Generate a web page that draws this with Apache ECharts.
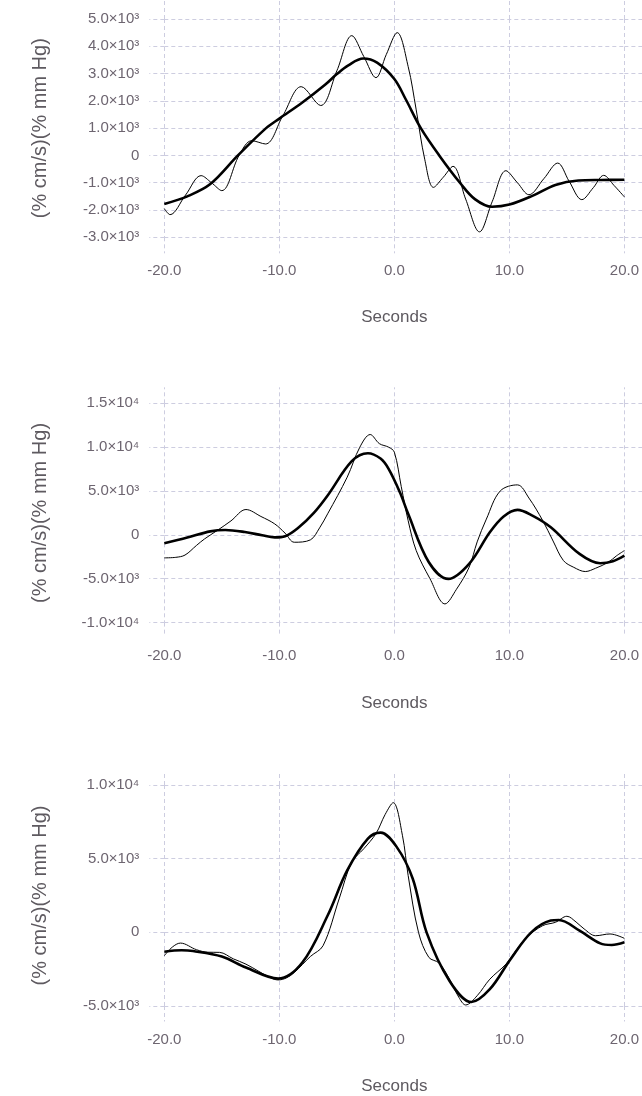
<!DOCTYPE html>
<html>
<head>
<meta charset="utf-8">
<script src="https://cdn.jsdelivr.net/npm/echarts@6/dist/echarts.min.js"></script>
<style>
html,body{margin:0;padding:0;background:#fff;}
#c{width:642px;height:1096px;}
</style>
</head>
<body>
<div id="c"></div>
<script>
// ---- data (time in seconds, values in (% cm/s)(% mm Hg)) ----
const xTicks = [-20, -10, 0, 10, 20];
const xTickLabels = ['-20.0', '-10.0', '0.0', '10.0', '20.0'];

const topYTicks = [-3000, -2000, -1000, 0, 1000, 2000, 3000, 4000, 5000];
const topYLabels = ['-3.0×10³', '-2.0×10³', '-1.0×10³', '0', '1.0×10³', '2.0×10³', '3.0×10³', '4.0×10³', '5.0×10³'];
const midYTicks = [-10000, -5000, 0, 5000, 10000, 15000];
const midYLabels = ['-1.0×10⁴', '-5.0×10³', '0', '5.0×10³', '1.0×10⁴', '1.5×10⁴'];
const botYTicks = [-5000, 0, 5000, 10000];
const botYLabels = ['-5.0×10³', '0', '5.0×10³', '1.0×10⁴'];

const topThinT = [-20, -19.5, -18.15, -16.8, -15.9, -15.0, -13.5, -12.4, -11.2, -9.7, -8.1, -6.4, -5.0, -3.7, -2.65, -1.6, -0.7, 0.25, 1.2, 1.9, 2.65, 3.4, 4.25, 5.1, 6.2, 7.4, 8.5, 9.7, 10.7, 11.7, 13.0, 14.2, 15.2, 16.3, 17.3, 18.2, 19.1, 20];
const topThinV = [-1950, -2170, -1450, -740, -1000, -1290, 0, 540, 420, 1450, 2520, 1830, 3100, 4390, 3620, 2850, 3700, 4500, 3260, 1670, -160, -1170, -800, -400, -1600, -2800, -1700, -560, -1000, -1440, -850, -280, -950, -1620, -1180, -730, -1100, -1520];
const topThickT = [-20, -18, -16, -13.6, -11.15, -10, -8, -6, -5, -4, -2.7, -1.5, 0, 1, 2.3, 3.9, 5.7, 7, 8.5, 10, 12, 14, 16, 18, 20];
const topThickV = [-1780, -1500, -1050, 0, 1000, 1350, 1940, 2600, 2980, 3300, 3550, 3400, 2800, 2050, 1000, 0, -1000, -1600, -1880, -1800, -1480, -1080, -920, -900, -890];

const midThinT = [-20, -19, -18.2, -17.2, -16.5, -15.4, -14.2, -12.9, -11.6, -10.4, -9.5, -8.7, -7.3, -6.5, -5.8, -4.1, -3.0, -2.1, -1.3, -0.5, 0, 0.6, 1.2, 1.9, 3.1, 4.4, 5.4, 6.5, 7.2, 8.0, 9.2, 10.7, 11.7, 12.9, 13.8, 14.7, 15.6, 16.6, 17.5, 18.6, 19.3, 20];
const midThinV = [-2620, -2560, -2300, -1200, -460, 500, 1600, 2890, 2100, 1250, 200, -840, -570, 800, 2400, 6580, 10000, 11440, 10400, 10000, 9430, 5500, 1630, -1790, -5000, -7870, -6200, -3690, -800, 1800, 5000, 5700, 4200, 1630, -700, -2930, -3700, -4180, -3800, -3120, -2400, -1790];
const midThickT = [-20, -18, -16, -14.7, -13, -11.5, -10.4, -9.5, -8.3, -7, -5.8, -3.7, -2.3, -1.2, -0.5, 0.5, 1.2, 3.0, 4.7, 6.5, 8.3, 9.5, 10.7, 12, 13.6, 16.1, 17.9, 19, 20];
const midThickV = [-950, -300, 400, 560, 330, -50, -280, -150, 870, 2500, 4490, 8400, 9310, 8700, 7530, 4800, 2400, -3120, -5020, -3300, 300, 2100, 2850, 2200, 870, -2170, -3230, -3000, -2360];

const botThinT = [-20, -19.3, -18.6, -17.2, -16.2, -15.2, -14, -12.9, -10.8, -10.1, -9.4, -8.7, -7.3, -6.2, -4.8, -3.7, -2.65, -1.6, -0.8, -0.1, 0.7, 1.2, 2.1, 3.0, 3.9, 4.8, 5.6, 6.2, 7.2, 8.3, 9.7, 10.6, 11.5, 12.9, 14.0, 15.0, 15.8, 16.5, 17.5, 18.75, 20];
const botThinV = [-1590, -1000, -730, -1180, -1350, -1360, -1800, -2160, -3070, -3230, -3100, -2730, -1640, -910, 2270, 4770, 5680, 6700, 8000, 8800, 6590, 3860, 0, -1700, -2090, -3180, -4400, -4930, -4300, -3180, -2160, -1200, -340, 455, 680, 1090, 700, 230, -230, -110, -410];
const botThickT = [-20, -18.5, -17.5, -15, -12.9, -10.1, -8.0, -5.8, -4.1, -2.3, -1.2, 0.2, 1.6, 2.8, 4.8, 6.7, 8.3, 10.1, 11.9, 13.6, 14.3, 16.1, 17.9, 18.9, 20];
const botThickV = [-1320, -1220, -1270, -1640, -2390, -3140, -2050, 1140, 4200, 6360, 6770, 5800, 3640, 0, -3300, -4730, -3860, -1820, 0, 800, 840, 110, -750, -860, -680];

// ---- build ----
const zip = (t, v) => t.map((x, i) => [x, v[i]]);
const GRID_COLOR = '#cdcde0';
const LABEL_COLOR = '#6d6570';
const NAME_COLOR = '#5e5a60';
const FONT = 'Liberation Sans, Arial, Helvetica, sans-serif';
const dash = [4, 3];

const panels = [
  { top: 19, height: 218.3, topExt: 19, botExt: 16, yTicks: topYTicks, yLabels: topYLabels, thin: zip(topThinT, topThinV), thick: zip(topThickT, topThickV) },
  { top: 403.3, height: 219.3, topExt: 16, botExt: 14, yTicks: midYTicks, yLabels: midYLabels, thin: zip(midThinT, midThinV), thick: zip(midThickT, midThickV) },
  { top: 785, height: 221.5, topExt: 13, botExt: 15.5, yTicks: botYTicks, yLabels: botYLabels, thin: zip(botThinT, botThinV), thick: zip(botThickT, botThickV) }
];

const tickStyle = { color: GRID_COLOR, type: dash, width: 1 };
const grid = [], xAxis = [], yAxis = [], series = [];
panels.forEach((p, i) => {
  grid.push({ left: 164.3, right: 15.3, top: p.top, height: p.height });
  const yMin = p.yTicks[0], yMax = p.yTicks[p.yTicks.length - 1];
  const yInt = p.yTicks[1] - p.yTicks[0];
  // bottom x axis
  xAxis.push({
    type: 'value', gridIndex: i, position: 'bottom', min: xTicks[0], max: xTicks[xTicks.length - 1], interval: 10,
    axisLine: { show: false, onZero: false },
    axisTick: { show: true, length: p.botExt, lineStyle: tickStyle },
    splitLine: { show: true, lineStyle: tickStyle },
    axisLabel: { margin: 26, color: LABEL_COLOR, fontSize: 15, fontFamily: FONT,
      formatter: v => { const k = xTicks.indexOf(v); return k >= 0 ? xTickLabels[k] : ''; } },
    name: 'Seconds', nameLocation: 'middle', nameGap: 72,
    nameTextStyle: { color: NAME_COLOR, fontSize: 17, fontFamily: FONT }
  });
  // top x axis (grid extension only)
  xAxis.push({
    type: 'value', gridIndex: i, position: 'top', min: xTicks[0], max: xTicks[xTicks.length - 1], interval: 10,
    axisLine: { show: false, onZero: false }, axisLabel: { show: false }, splitLine: { show: false },
    axisTick: { show: true, length: p.topExt, lineStyle: tickStyle }
  });
  // left y axis
  yAxis.push({
    type: 'value', gridIndex: i, position: 'left', min: yMin, max: yMax, interval: yInt,
    axisLine: { show: false, onZero: false },
    axisTick: { show: true, length: 15, lineStyle: tickStyle },
    splitLine: { show: true, lineStyle: tickStyle },
    axisLabel: { margin: 25, color: LABEL_COLOR, fontSize: 15, fontFamily: FONT,
      formatter: v => { const k = p.yTicks.indexOf(v); return k >= 0 ? p.yLabels[k] : ''; } },
    name: '(% cm/s)(% mm Hg)', nameLocation: 'middle', nameGap: 114, nameRotate: 90,
    nameTextStyle: { color: NAME_COLOR, fontSize: 20, fontFamily: FONT }
  });
  // right y axis (grid extension only)
  yAxis.push({
    type: 'value', gridIndex: i, position: 'right', min: yMin, max: yMax, interval: yInt,
    axisLine: { show: false, onZero: false }, axisLabel: { show: false }, splitLine: { show: false },
    axisTick: { show: true, length: 20, lineStyle: tickStyle }
  });
  series.push({
    type: 'line', xAxisIndex: 2 * i, yAxisIndex: 2 * i, data: p.thin, showSymbol: false,
    smooth: 0.35, lineStyle: { color: '#000', width: 1 }, z: 3, silent: true
  });
  series.push({
    type: 'line', xAxisIndex: 2 * i, yAxisIndex: 2 * i, data: p.thick, showSymbol: false,
    smooth: 0.35, lineStyle: { color: '#000', width: 2.6 }, z: 4, silent: true
  });
});

const chart = echarts.init(document.getElementById('c'), null, { renderer: 'canvas' });
chart.setOption({ animation: false, backgroundColor: '#fff', grid, xAxis, yAxis, series });
</script>
</body>
</html>
